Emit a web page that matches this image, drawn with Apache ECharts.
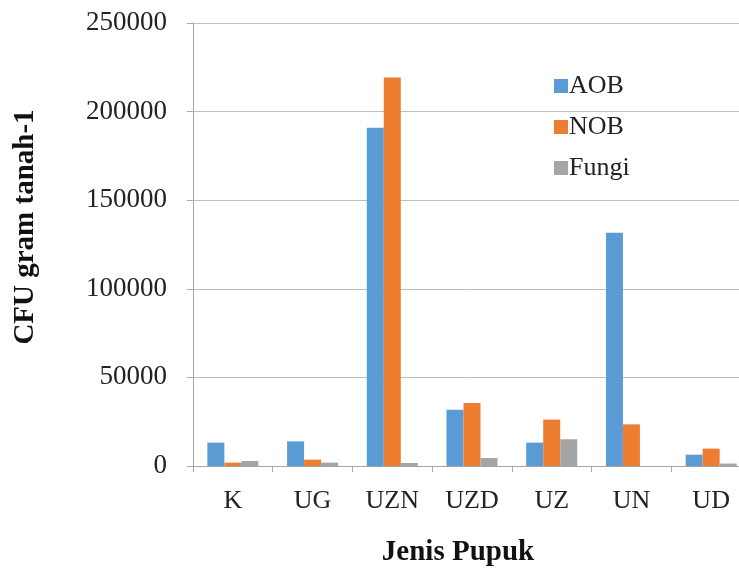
<!DOCTYPE html>
<html>
<head>
<meta charset="utf-8">
<script src="https://cdn.jsdelivr.net/npm/echarts@6/dist/echarts.min.js"></script>
<style>
  html, body { margin: 0; padding: 0; background: #fff; }
  #chart { width: 739px; height: 573px; }
</style>
</head>
<body>
<div id="chart"></div>
<script>
// categories (jenis pupuk)
const categories = ["K", "UG", "UZN", "UZD", "UZ", "UN", "UD"]

// series values
const aob = [13200, 13900, 190900, 31800, 13200, 131600, 6400]
const nob = [1900, 3600, 219300, 35600, 26200, 23500, 9800]
const fungi = [2800, 1900, 1700, 4500, 15100, 0, 1400]

// y axis ticks
const yMax = 250000
const yStep = 50000

const serif = "Liberation Serif, Times New Roman, serif"

const chart = echarts.init(document.getElementById("chart"))

const options = {
  animation: false,
  color: ["#5b9bd5", "#ed7d31", "#a5a5a5"],
  // the plot runs a little past the right edge, like the cropped original
  grid: {
    left: 193,
    width: 558,
    top: 23,
    height: 443,
    outerBoundsMode: "none",
  },
  legend: {
    orient: "vertical",
    left: 549,
    top: 68,
    icon: "rect",
    itemWidth: 14,
    itemHeight: 14,
    itemGap: 15,
    textStyle: {
      fontFamily: serif,
      fontSize: 26,
      color: "#222",
      padding: [0, 0, 0, -4],
    },
    data: ["AOB", "NOB", "Fungi"],
  },
  xAxis: {
    type: "category",
    data: categories,
    axisLine: { lineStyle: { color: "#a6a6a6", width: 1 } },
    axisTick: { show: true, length: 6, lineStyle: { color: "#a6a6a6" } },
    axisLabel: {
      fontFamily: serif,
      fontSize: 26,
      color: "#222",
      margin: 22,
    },
  },
  yAxis: {
    type: "value",
    min: 0,
    max: yMax,
    interval: yStep,
    axisLine: { show: true, lineStyle: { color: "#a6a6a6", width: 1 } },
    axisTick: { show: true, length: 6, lineStyle: { color: "#a6a6a6" } },
    splitLine: { lineStyle: { color: "#bfbfbf", width: 1 } },
    axisLabel: {
      fontFamily: serif,
      fontSize: 27,
      color: "#222",
      margin: 26,
      formatter: (v) => String(v),
    },
  },
  graphic: [
    {
      type: "text",
      x: 26,
      y: 227,
      rotation: Math.PI / 2,
      style: {
        text: "CFU gram tanah-1",
        fontFamily: serif,
        fontWeight: "bold",
        fontSize: 29,
        fill: "#111",
        align: "center",
        verticalAlign: "middle",
      },
    },
    {
      type: "text",
      x: 458,
      y: 553,
      style: {
        text: "Jenis Pupuk",
        fontFamily: serif,
        fontWeight: "bold",
        fontSize: 29,
        fill: "#111",
        align: "center",
        verticalAlign: "middle",
      },
    },
  ],
  series: [
    { name: "AOB", type: "bar", data: aob, barWidth: 17, barGap: "0%" },
    { name: "NOB", type: "bar", data: nob, barWidth: 17, barGap: "0%" },
    { name: "Fungi", type: "bar", data: fungi, barWidth: 17, barGap: "0%" },
  ],
}

chart.setOption(options)

window.addEventListener("resize", () => chart.resize())
</script>
</body>
</html>
